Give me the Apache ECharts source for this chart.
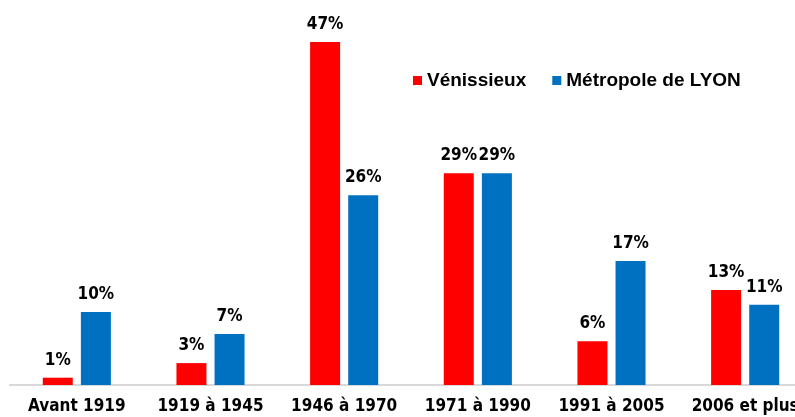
<!DOCTYPE html>
<html>
<head>
<meta charset="utf-8">
<script src="https://cdn.jsdelivr.net/npm/echarts@6/dist/echarts.min.js"></script>
<style>
  html, body { margin: 0; padding: 0; background: #fff; }
  #chart { width: 795px; height: 417px; }
</style>
</head>
<body>
<div id="chart"></div>
<script>
const categories = ['Avant 1919', '1919 à 1945', '1946 à 1970', '1971 à 1990', '1991 à 2005', '2006 et plus'];
const venissieux = [1, 3, 47, 29, 6, 13];
const metropole = [10, 7, 26, 29, 17, 11];

const narrow = "'DejaVu Sans Condensed', sans-serif";

const chart = echarts.init(document.getElementById('chart'));
chart.setOption({
  animation: false,
  legend: {
    left: 408,
    top: 66,
    itemWidth: 9,
    itemHeight: 9,
    itemGap: 26,
    icon: 'rect',
    textStyle: { fontFamily: 'Liberation Sans', fontWeight: 'bold', fontSize: 19, color: '#000' },
    data: ['Vénissieux', 'Métropole de LYON']
  },
  grid: { left: 10, top: 20, width: 802, bottom: 32, outerBoundsMode: 'none' },
  xAxis: {
    type: 'category',
    data: categories,
    axisLine: { lineStyle: { color: '#d9d9d9', width: 2 } },
    axisTick: { show: false },
    axisLabel: { interval: 0, margin: 13, fontFamily: narrow, fontWeight: 'bold', fontSize: 17, color: '#000' }
  },
  yAxis: {
    type: 'value',
    min: 0,
    max: 50,
    show: false
  },
  series: [
    {
      name: 'Vénissieux',
      type: 'bar',
      data: venissieux,
      barWidth: 30,
      barGap: '27%',
      itemStyle: { color: '#ff0000' },
      label: { show: true, position: 'top', distance: 9, formatter: '{c}%', fontFamily: narrow, fontWeight: 'bold', fontSize: 17, color: '#000' }
    },
    {
      name: 'Métropole de LYON',
      type: 'bar',
      data: metropole,
      barWidth: 30,
      itemStyle: { color: '#0070c0' },
      label: { show: true, position: 'top', distance: 9, formatter: '{c}%', fontFamily: narrow, fontWeight: 'bold', fontSize: 17, color: '#000' }
    }
  ]
});
</script>
</body>
</html>
